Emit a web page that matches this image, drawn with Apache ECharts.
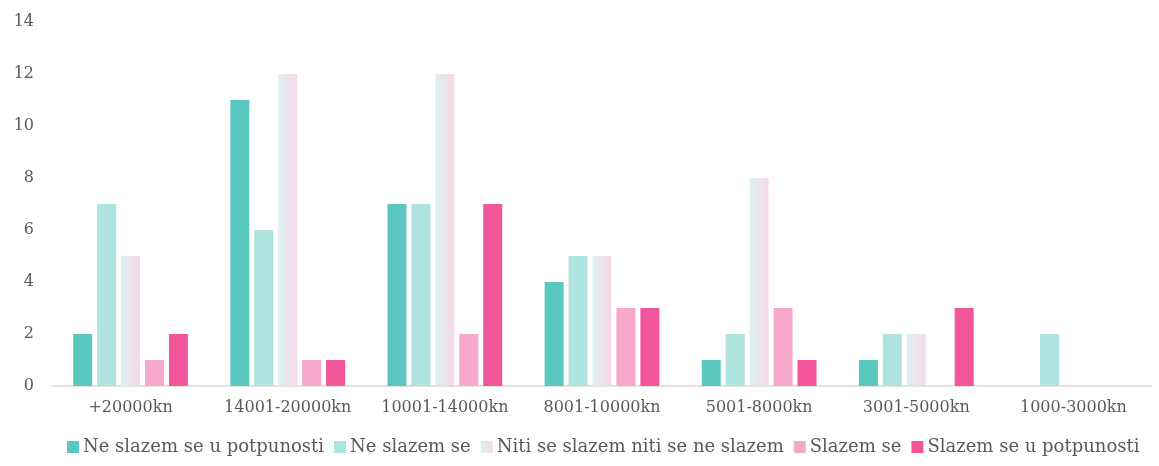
<!DOCTYPE html>
<html><head><meta charset="utf-8">
<script src="https://cdn.jsdelivr.net/npm/echarts@6/dist/echarts.min.js"></script>
<style>html,body{margin:0;padding:0;background:#fff}#c{width:1159px;height:466px}</style>
</head><body><div id="c"></div>
<script>
const categories = ['+20000kn','14001-20000kn','10001-14000kn','8001-10000kn','5001-8000kn','3001-5000kn','1000-3000kn'];
const seriesNames = ['Ne slazem se u potpunosti','Ne slazem se','Niti se slazem niti se ne slazem','Slazem se','Slazem se u potpunosti'];
const s1 = [2,11,7,4,1,1,0];
const s2 = [7,6,7,5,2,2,2];
const s3 = [5,12,12,5,8,2,0];
const s4 = [1,1,2,3,3,0,0];
const s5 = [2,1,7,3,1,3,0];
const yTicks = [0,2,4,6,8,10,12,14];

const FONT = 'DejaVu Serif';
const grad = new echarts.graphic.LinearGradient(0,0,1,0,[{offset:0,color:'#DCF1F0'},{offset:1,color:'#F8D8E8'}]);
const colors = ['#5BC8C0','#AEE3E0',grad,'#F7A8CB','#F2559A'];
const data = [s1,s2,s3,s4,s5];
const chart = echarts.init(document.getElementById('c'));
chart.setOption({
  animation:false,
  textStyle:{fontFamily:FONT},
  legend:{
    bottom:5, left:62, itemWidth:12, itemHeight:12, itemGap:10,
    icon:'rect',
    textStyle:{fontFamily:FONT,fontSize:18,color:'#595959',padding:[0,0,0,-1]},
    data:seriesNames
  },
  grid:{left:52,right:7,top:22,bottom:80,containLabel:false},
  xAxis:{type:'category',data:categories,
    axisLine:{lineStyle:{color:'#D9D9D9',width:1.5}},axisTick:{show:false},
    axisLabel:{fontFamily:FONT,fontSize:16,color:'#595959',margin:14,interval:0}},
  yAxis:{type:'value',min:0,max:14,interval:2,
    axisLine:{show:false},axisTick:{show:false},splitLine:{show:false},
    axisLabel:{fontFamily:FONT,fontSize:16,color:'#595959',margin:18,
      formatter:v=>yTicks.includes(v)?String(v):''}},
  series:seriesNames.map((n,i)=>({
    name:n,type:'bar',data:data[i],barWidth:19,barGap:'26%',
    itemStyle:{color:colors[i]}
  }))
});
</script></body></html>
